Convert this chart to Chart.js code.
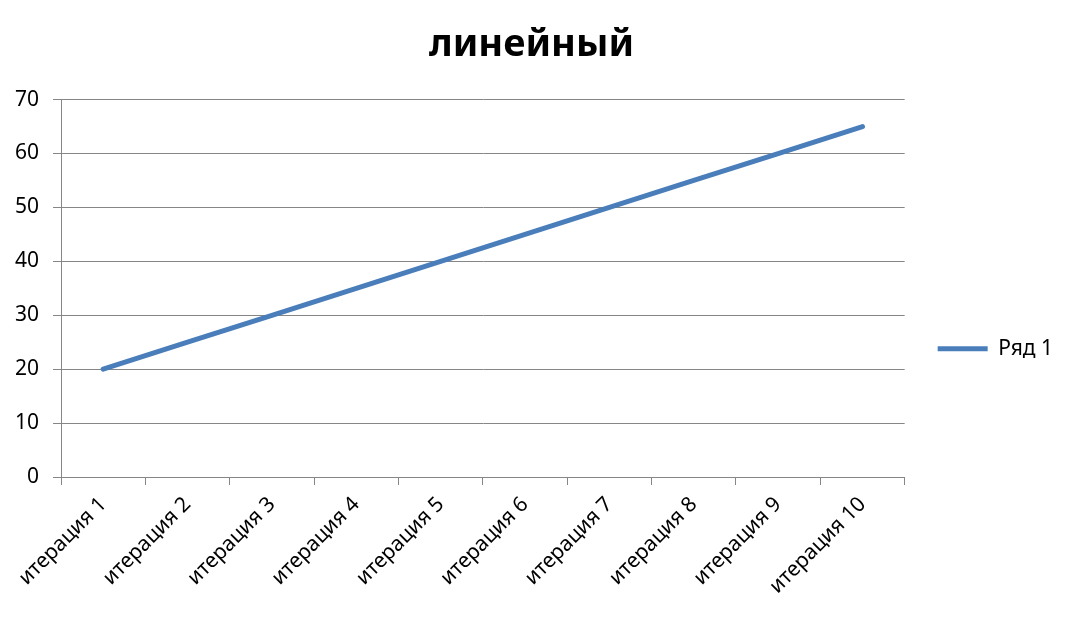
<!DOCTYPE html>
<html lang="ru">
<head>
    <meta charset="UTF-8">
    <title>линейный</title>
    <style>
        html, body { margin: 0; padding: 0; background: #fff; }
        #wrap { width: 1072px; height: 620px; }
    </style>
    <script src="https://cdn.jsdelivr.net/npm/chart.js"></script>
</head>
<body>
    <div id="wrap"><canvas id="lineChart"></canvas></div>
    <script>
        // данные графика
        const categories = ['итерация 1', 'итерация 2', 'итерация 3', 'итерация 4', 'итерация 5',
                            'итерация 6', 'итерация 7', 'итерация 8', 'итерация 9', 'итерация 10'];
        const seriesName = 'Ряд 1';
        const seriesValues = [20, 25, 30, 35, 40, 45, 50, 55, 60, 65];
        const yMin = 0, yMax = 70, yStep = 10;

        const fontFamily = '"Noto Sans", "Open Sans", sans-serif';
        const gridColor = '#868686';
        const lineColor = '#4A7EBB';

        const ctx = document.getElementById('lineChart').getContext('2d');
        new Chart(ctx, {
            type: 'line',
            data: {
                labels: categories,
                datasets: [{
                    label: seriesName,
                    data: seriesValues,
                    borderColor: lineColor,
                    backgroundColor: lineColor,
                    borderWidth: 5,
                    borderCapStyle: 'round',
                    pointRadius: 0,
                    tension: 0
                }]
            },
            options: {
                responsive: true,
                maintainAspectRatio: false,
                animation: false,
                layout: { padding: { top: 1, left: 0, right: 9, bottom: 0 } },
                plugins: {
                    title: {
                        display: true,
                        text: 'линейный',
                        color: '#000',
                        font: { family: fontFamily, size: 38, weight: 'bold', lineHeight: 1.2 },
                        padding: { top: 21, bottom: 32 }
                    },
                    legend: {
                        display: true,
                        position: 'right',
                        // пустой заголовок сдвигает подпись легенды вниз, как в оригинале
                        title: {
                            display: true,
                            text: '',
                            font: { family: fontFamily, size: 12 },
                            padding: { top: 0, bottom: 62 }
                        },
                        labels: {
                            usePointStyle: true,
                            pointStyle: 'line',
                            pointStyleWidth: 50,
                            boxWidth: 50,
                            color: '#000',
                            font: { family: fontFamily, size: 21 },
                            padding: 33
                        }
                    },
                    tooltip: { enabled: false }
                },
                scales: {
                    x: {
                        offset: true,
                        grid: {
                            offset: true,
                            drawOnChartArea: false,
                            color: gridColor,
                            tickLength: 8
                        },
                        border: { color: gridColor },
                        ticks: {
                            color: '#000',
                            font: { family: fontFamily, size: 21 },
                            maxRotation: 45,
                            minRotation: 45,
                            padding: 7,
                            autoSkip: false
                        },
                        afterFit: function (scale) { scale.height = 143; }
                    },
                    y: {
                        min: yMin,
                        max: yMax,
                        grid: { color: gridColor, tickLength: 8 },
                        border: { color: gridColor },
                        ticks: {
                            stepSize: yStep,
                            color: '#000',
                            font: { family: fontFamily, size: 21 },
                            padding: 14
                        },
                        afterFit: function (scale) { scale.width = 61; }
                    }
                }
            }
        });
    </script>
</body>
</html>
